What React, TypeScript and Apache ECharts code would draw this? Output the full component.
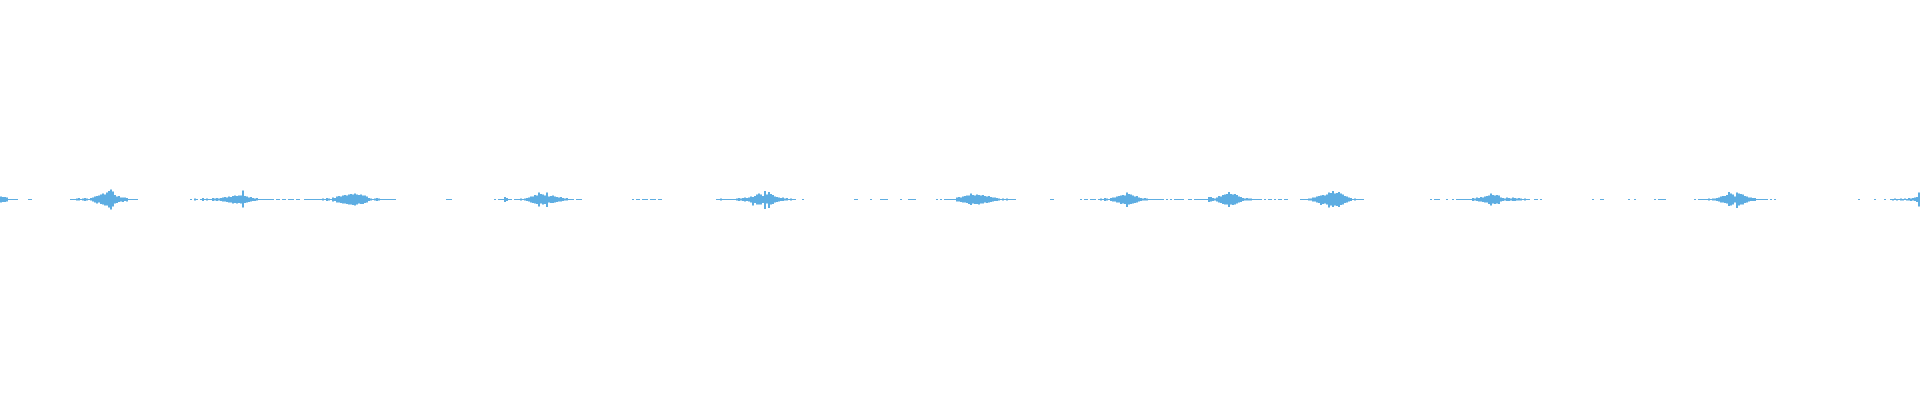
import React, { useEffect, useRef } from "react";
import * as echarts from "echarts";

// Waveform peaks, one column = 2px of the 1920px width (960 columns).
// Values are peak amplitudes in pixels above (top) and below (bottom) the centre line.
const COLUMN_COUNT = 960;
const WAVE_COLOR = "#5dade2";
const CENTER_FROM_BOTTOM = 200.5;

const seg00Start = 0;
const seg00 = [3, 2.5, 2.5, 2, 0.5, 0.5, 0.5, 0.5, 0.5, 0, 0, 0, 0, 0, 0.5, 0.5];

const seg01Start = 35;
const seg01Top = [0.5, 0.5, 0.5, 1, 1.5, 0.5, 1, 1.5, 1, 0.5, 1.5, 2, 3, 3.5, 4, 5, 6, 5, 7, 8.5, 10, 8, 4.5, 3, 3.5, 2, 2, 2, 1.5, 0.5, 0.5, 0.5, 0.5, 0.5];
const seg01Bot = [0.5, 0.5, 0.5, 1, 1, 0.5, 1, 1.5, 1, 0.5, 1, 2, 3, 4, 3, 4.5, 5, 6, 6, 8, 10, 7, 4, 3.5, 2.5, 2, 2.5, 1.5, 2, 0.5, 0.5, 0.5, 0.5, 0.5];

const seg02Start = 95;
const seg02 = [0.5, 0, 1, 0.5, 0, 0.5, 1.5, 0.5, 1, 0.5, 0.5, 1.5, 1, 1.5, 1, 1.5];

const seg03Start = 111;
const seg03Top = [2, 2.5, 2, 3, 2.5, 3.5, 4, 3.5, 4, 4, 9, 3.5, 3, 2, 2.5, 1.5, 1, 1.5, 0.5];
const seg03Bot = [2, 2, 2.5, 3, 3, 4, 3.5, 4, 3.5, 4, 8, 3.5, 3, 2.5, 2, 1.5, 1.5, 1, 0.5];

const seg04Start = 130;
const seg04 = [0.5, 0.5, 0.5, 0.5, 0.5, 0.5, 0.5, 0, 0.5, 0.5, 0, 0.5, 0.5, 0, 0.5, 0.5, 0.5, 0, 0.5, 0.5, 0, 0, 0.5, 0.5, 0.5, 0.5, 0.5, 0.5, 0.5, 0.5, 0.5, 1, 0.5, 1.5, 1, 0.5, 2, 1.5];

const seg05Start = 168;
const seg05Top = [3, 3.5, 3, 4, 4.5, 4, 5, 5.5, 5, 6, 5, 4.5, 5, 4, 4, 3];
const seg05Bot = [3, 3, 3.5, 4, 4, 4.5, 5, 5, 5.5, 6, 5, 4, 4.5, 4.5, 3.5, 3];

const seg06Start = 184;
const seg06 = [1.5, 1, 0.5, 1, 1.5, 1, 0.5, 0.5, 0.5, 0.5, 0.5, 0.5, 0.5, 0.5];

const seg07Start = 223;
const seg07 = [0.5, 0.5, 0.5, 0, 0, 0, 0, 0, 0, 0, 0, 0, 0, 0, 0, 0, 0, 0, 0, 0, 0, 0, 0, 0, 0.5, 0, 0.5, 0.5, 0.5, 2.5, 1.5, 0.5, 0.5, 0, 0.5, 0.5, 0.5];

const seg08Start = 260;
const seg08Top = [1, 0.5, 1, 1.5, 2, 3, 3, 4.5, 4, 7, 5.5, 5, 4, 7, 3, 3.5, 4, 3, 2.5, 2, 2.5, 1.5, 1, 1.5];
const seg08Bot = [1, 0.5, 1, 1.5, 2, 3, 3.5, 4, 4.5, 7, 4, 5, 4.5, 7.5, 3, 3.5, 3.5, 3, 2.5, 2, 2, 1.5, 1, 1];

const seg09Start = 284;
const seg09 = [0.5, 0.5, 0.5, 0, 0.5, 0.5, 0.5];

const seg10Start = 316;
const seg10 = [0.5, 0, 0.5, 0.5, 0, 0.5, 0.5, 0.5, 0, 0.5, 0.5, 0.5, 0, 0.5, 0.5];

const seg11Start = 358;
const seg11 = [0.5, 0.5, 1, 0.5, 0.5, 0.5, 0.5, 0.5, 0.5, 0.5, 1, 1.5, 1, 1.5, 2, 1.5, 2];

const seg12Start = 375;
const seg12Top = [3, 2.5, 3.5, 5, 6, 5, 3.5, 8.5, 5, 7.5, 5.5, 4.5, 3, 2.5, 2, 1.5, 2, 1, 1.5];
const seg12Bot = [3, 6, 3.5, 5, 5, 5, 3.5, 9.5, 4, 8.5, 5, 4.5, 3, 2.5, 2, 1.5, 1.5, 1, 1];

const seg13Start = 394;
const seg13 = [0.5, 1, 0.5, 0.5, 0, 0, 0, 0.5];

const seg14Start = 427;
const seg14 = [0.5, 0.5, 0, 0, 0, 0, 0, 0, 0.5, 0, 0, 0, 0, 0.5, 0.5, 0.5, 0.5, 0, 0, 0, 0, 0, 0, 0.5, 0, 0, 0, 0.5, 0.5, 0.5, 0.5, 0, 0, 0, 0, 0, 0, 0, 0, 0, 0, 0.5, 0, 0.5, 0, 0.5, 0.5, 0.5, 0.5, 0.5, 0.5];

const seg15Start = 478;
const seg15Top = [2, 2.5, 2, 3, 3.5, 4, 4, 6, 4.5, 4, 5, 4.5, 4, 4.5, 3.5, 3, 3.5, 2.5, 2, 2, 1.5, 1];
const seg15Bot = [2, 2, 2.5, 3, 3, 3.5, 4.5, 5.5, 4, 4.5, 4.5, 5, 4, 4, 3, 3.5, 3, 2.5, 2, 1.5, 1.5, 1];

const seg16Start = 500;
const seg16 = [0.5, 1, 0.5, 1, 0.5, 0.5, 0.5, 0.5];

const seg17Start = 525;
const seg17 = [0.5, 0.5, 0, 0, 0, 0, 0, 0, 0, 0, 0, 0, 0, 0, 0, 0.5, 0, 0.5, 0.5, 0, 0.5, 0.5, 0.5, 0, 0.5, 1, 0.5, 1.5, 1, 0.5, 1.5];

const seg18Start = 556;
const seg18Top = [2, 2, 3, 3.5, 4, 4.5, 4, 7, 5.5, 5, 4, 3, 3.5, 2, 1.5, 1, 1.5, 1];
const seg18Bot = [2, 2, 3, 3, 4.5, 4, 4.5, 7.5, 5, 4.5, 4, 3.5, 3, 2, 1.5, 1, 1, 1];

const seg19Start = 574;
const seg19 = [0.5, 0.5, 0.5, 0.5, 0.5, 0.5, 0.5, 0.5, 0, 0.5, 0, 0.5, 0, 0.5, 0.5, 0.5, 0.5, 0.5, 0, 0, 0.5, 0.5, 0, 0.5, 0.5, 0.5, 0.5, 0.5, 0.5, 0.5];

const seg20Start = 604;
const seg20Top = [2.5, 2.5, 1.5, 1, 2, 3.5, 3, 4.5, 5, 5.5, 7.5, 5.5, 5, 5.5, 4.5, 3, 2.5, 1.5, 1, 1.5, 1, 1, 0.5];
const seg20Bot = [2.5, 2, 1.5, 1, 2, 3, 3.5, 4.5, 5, 5, 7.5, 5, 5.5, 5, 4, 3, 2.5, 1.5, 1, 1, 1, 1, 0.5];

const seg21Start = 627;
const seg21 = [0.5, 0.5, 0.5, 0.5, 0, 0.5, 0, 0.5, 0.5, 0, 0.5, 0, 0.5, 0.5, 0, 0.5, 0.5, 0, 0, 0, 0, 0, 0, 0.5, 0.5, 0.5, 0.5, 1, 1];

const seg22Start = 656;
const seg22Top = [2, 2, 3, 3.5, 4, 4.5, 4, 5, 7, 6.5, 8.5, 6, 6.5, 7.5, 6, 5, 3.5, 3, 2, 1.5];
const seg22Bot = [2, 2, 3, 3.5, 5.5, 4.5, 4, 5, 8, 6, 7.5, 6, 6.5, 7.5, 5.5, 5, 3.5, 3, 2, 1.5];

const seg23Start = 676;
const seg23 = [0.5, 1, 0.5, 0.5, 0.5, 0.5];

const seg24Start = 715;
const seg24 = [0.5, 0, 0.5, 0.5, 0.5, 0, 0, 0, 0.5, 0, 0, 0.5, 0, 0.5, 0.5, 0.5, 0.5, 0.5, 0.5, 0.5, 0.5];

const seg25Start = 736;
const seg25Top = [1.5, 1, 2, 1.5, 2.5, 2, 3, 3.5, 4, 6, 4.5, 4, 4.5, 4, 2, 1.5, 1, 2, 1.5, 1, 2, 1.5, 1, 1.5, 1, 0.5, 1];
const seg25Bot = [1.5, 1, 1.5, 2, 2, 2.5, 3, 3, 4.5, 6, 4, 4.5, 4, 4.5, 2, 1.5, 1, 1.5, 1.5, 1, 1.5, 1.5, 1, 1, 1, 0.5, 1];

const seg26Start = 763;
const seg26 = [0.5, 0.5, 0, 0, 0.5, 0.5, 0, 0.5];

const seg27Start = 796;
const seg27 = [0.5, 0, 0, 0, 0.5, 0.5, 0, 0, 0, 0, 0, 0, 0, 0, 0, 0, 0, 0, 0.5, 0, 0, 0.5, 0, 0, 0, 0, 0, 0, 0, 0, 0, 0.5, 0, 0.5, 0.5, 0.5, 0.5, 0, 0, 0, 0, 0, 0, 0, 0, 0, 0, 0, 0, 0, 0, 0.5, 0, 0.5, 0.5, 0.5, 0.5, 0.5, 1, 0.5, 1, 1, 1.5];

const seg28Start = 859;
const seg28Top = [2, 3, 3.5, 3.5, 4.5, 7.5, 6, 5, 3, 7, 6, 5.5, 5, 3.5, 3, 2, 2, 1.5, 1.5];
const seg28Bot = [2, 3, 3, 3.5, 4, 6.5, 6, 5, 3, 8.5, 6, 5, 5, 3.5, 3, 2, 1.5, 1.5, 1.5];

const seg29Start = 878;
const seg29 = [0.5, 0.5, 0.5, 0.5, 0.5, 0.5, 0, 0.5, 0, 0.5];

const seg30Start = 929;
const seg30Top = [0.5, 0, 0, 0, 0, 0, 0, 0, 0.5, 0, 0, 0, 0, 0.5, 0, 0, 0.5, 0.5, 1, 0.5, 0.5, 1, 0.5, 1, 0.5, 1.5, 1, 1.5, 2, 2.5, 7];
const seg30Bot = [0.5, 0, 0, 0, 0, 0, 0, 0, 0.5, 0, 0, 0, 0, 0.5, 0, 0, 0.5, 1, 0.5, 1, 0.5, 1, 1, 0.5, 1, 1, 1.5, 1, 1.5, 2.5, 7];

type Segment = [number, number[], number[]?];

const segments: Segment[] = [
  [seg00Start, seg00],
  [seg01Start, seg01Top, seg01Bot],
  [seg02Start, seg02],
  [seg03Start, seg03Top, seg03Bot],
  [seg04Start, seg04],
  [seg05Start, seg05Top, seg05Bot],
  [seg06Start, seg06],
  [seg07Start, seg07],
  [seg08Start, seg08Top, seg08Bot],
  [seg09Start, seg09],
  [seg10Start, seg10],
  [seg11Start, seg11],
  [seg12Start, seg12Top, seg12Bot],
  [seg13Start, seg13],
  [seg14Start, seg14],
  [seg15Start, seg15Top, seg15Bot],
  [seg16Start, seg16],
  [seg17Start, seg17],
  [seg18Start, seg18Top, seg18Bot],
  [seg19Start, seg19],
  [seg20Start, seg20Top, seg20Bot],
  [seg21Start, seg21],
  [seg22Start, seg22Top, seg22Bot],
  [seg23Start, seg23],
  [seg24Start, seg24],
  [seg25Start, seg25Top, seg25Bot],
  [seg26Start, seg26],
  [seg27Start, seg27],
  [seg28Start, seg28Top, seg28Bot],
  [seg29Start, seg29],
  [seg30Start, seg30Top, seg30Bot],
];

function buildColumns() {
  const top: number[] = new Array(COLUMN_COUNT).fill(0);
  const bot: number[] = new Array(COLUMN_COUNT).fill(0);
  for (const [start, t, b] of segments) {
    const bb = b ?? t;
    for (let i = 0; i < t.length; i++) {
      const c = start + i;
      if (c < 0 || c >= COLUMN_COUNT) continue;
      top[c] = t[i];
      bot[c] = bb[i];
    }
  }
  // one rect per column: an invisible base up to the trough, then the visible span
  const base: (number | string)[] = [];
  const span: (number | string)[] = [];
  for (let c = 0; c < COLUMN_COUNT; c++) {
    const h = top[c] + bot[c];
    if (h <= 0) {
      base.push("-");
      span.push("-");
    } else {
      base.push(CENTER_FROM_BOTTOM - bot[c]);
      span.push(h);
    }
  }
  return { base, span };
}

export default function App() {
  const ref = useRef<HTMLDivElement>(null);

  useEffect(() => {
    document.body.style.margin = "0";
    if (!ref.current) return;
    const chart = echarts.init(ref.current, undefined, { renderer: "svg" });
    const { base, span } = buildColumns();
    const categories = base.map((_, i) => String(i));
    chart.setOption({
      animation: false,
      backgroundColor: "#ffffff",
      grid: { left: 0, right: 0, top: 0, bottom: 0 },
      xAxis: {
        type: "category",
        data: categories,
        show: false,
        boundaryGap: true,
      },
      yAxis: {
        type: "value",
        min: 0,
        max: 400,
        show: false,
        splitLine: { show: false },
      },
      tooltip: { show: false },
      series: [
        {
          name: "base",
          type: "bar",
          stack: "wave",
          data: base,
          barCategoryGap: "0%",
          itemStyle: { color: "rgba(0,0,0,0)" },
          silent: true,
        },
        {
          name: "wave",
          type: "bar",
          stack: "wave",
          data: span,
          barCategoryGap: "0%",
          itemStyle: { color: WAVE_COLOR },
          silent: true,
        },
      ],
    });
    return () => chart.dispose();
  }, []);

  return (
    <div
      ref={ref}
      style={{ position: "absolute", left: 0, top: 0, width: 1920, height: 400 }}
    />
  );
}
